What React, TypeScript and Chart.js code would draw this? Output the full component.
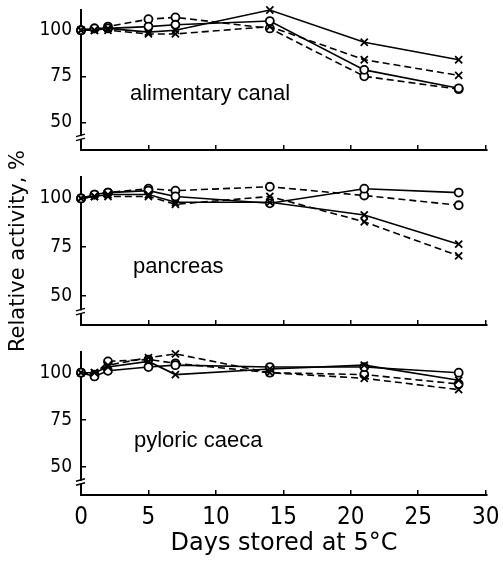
import React, { useEffect, useRef } from "react";
import { Chart, registerables } from "chart.js";

Chart.register(...registerables);

// ---------- data ----------
const days = [0, 1, 2, 5, 7, 14, 21, 28];
const xTicks = [0, 5, 10, 15, 20, 25, 30];
const yTicks = [50, 75, 100];
const xTitle = "Days stored at 5°C";
const yTitle = "Relative activity, %";
const panelNames = ["alimentary canal", "pancreas", "pyloric caeca"];

// alimentary canal
const canalSolidCross = [100, 100, 101, 99, 100, 111, 93.5, 84];
const canalDashedCross = [100, 100, 100, 98, 98, 102, 84, 75.5];
const canalSolidCircle = [100, 101, 101, 102, 103, 105, 78.5, 68.5];
const canalDashedCircle = [100, 101, 102, 106, 107, 101, 75, 68];

// pancreas
const pancSolidCross = [100, 101, 102, 102, 98, 98, 91.5, 76.5];
const pancDashedCross = [100, 101, 101, 101, 97, 101, 88, 70.5];
const pancSolidCircle = [100, 102, 103, 104, 101, 97.5, 105, 103];
const pancDashedCircle = [100, 102, 103, 105, 104, 106, 101.5, 96.5];

// pyloric caeca
const pylSolidCross = [100, 100, 103, 106, 99, 102, 104, 96];
const pylDashedCross = [100, 100, 104, 108, 110, 100, 97, 91];
const pylSolidCircle = [100, 98, 101, 103, 104, 103, 103, 100];
const pylDashedCircle = [100, 99, 106, 107, 105, 100, 99, 94];

// ---------- styling ----------
const NARROW = "'Liberation Sans Narrow', 'DejaVu Sans Condensed', 'Liberation Sans', sans-serif";
const LABEL_FONT = "'Liberation Sans', Arial, sans-serif";
const TITLE_FONT = "'DejaVu Sans', sans-serif";

type Series = { values: number[]; dashed: boolean; cross: boolean };

const decorPlugin = {
  id: "decor",
  afterDraw(chart: any, _args: any, opts: any) {
    const ctx = chart.ctx as CanvasRenderingContext2D;
    const ys = chart.scales.y;
    const area = chart.chartArea;
    ctx.save();
    // panel label
    ctx.fillStyle = "#000";
    ctx.font = `22px ${LABEL_FONT}`;
    ctx.textAlign = "left";
    ctx.textBaseline = "alphabetic";
    ctx.fillText(opts.text, opts.tx, opts.ty);
    // axis break mark
    const by = ys.getPixelForValue(opts.breakAt);
    const ax = area.left;
    ctx.fillStyle = "#fff";
    ctx.fillRect(ax - 2, by - 1, 4, 3);
    ctx.strokeStyle = "#000";
    ctx.lineWidth = 1.5;
    ctx.beginPath();
    ctx.moveTo(ax - 5, by - 0.5);
    ctx.lineTo(ax + 4, by - 3);
    ctx.moveTo(ax - 5, by + 3.5);
    ctx.lineTo(ax + 4, by + 1);
    ctx.stroke();
    ctx.restore();
  },
};

function makeDataset(s: Series) {
  return {
    data: days.map((d, i) => ({ x: d, y: s.values[i] })),
    borderColor: "#000",
    borderWidth: 1.6,
    borderDash: s.dashed ? [7, 4] : [],
    pointStyle: s.cross ? "crossRot" : "circle",
    pointRadius: s.cross ? 5 : 4,
    pointBorderWidth: 1.8,
    pointBorderColor: "#000",
    pointBackgroundColor: "#fff",
    fill: false,
    tension: 0,
    clip: 8,
  };
}

type PanelProps = {
  top: number;
  height: number;
  padTop: number;
  padBottom: number;
  xHeight: number;
  label: string;
  labelX: number;
  labelY: number;
  series: Series[];
  bottomAxis: boolean;
  showYTitle: boolean;
};

function Panel(p: PanelProps) {
  const ref = useRef<HTMLCanvasElement>(null);
  useEffect(() => {
    if (!ref.current) return;
    const gridOpts = {
      drawOnChartArea: false,
      drawTicks: true,
      tickLength: -5,
      color: "#000",
      lineWidth: 1.5,
    };
    const chart = new Chart(ref.current, {
      type: "line",
      data: { datasets: p.series.map(makeDataset) as any },
      plugins: [decorPlugin as any],
      options: {
        animation: false,
        responsive: false,
        layout: { padding: { top: p.padTop, right: 16, left: 0, bottom: p.padBottom } },
        plugins: {
          legend: { display: false },
          tooltip: { enabled: false },
          decor: { text: p.label, tx: p.labelX, ty: p.labelY, breakAt: 42 },
        } as any,
        scales: {
          x: {
            type: "linear",
            min: 0,
            max: 30.1,
            afterBuildTicks: (s: any) => {
              s.ticks = xTicks.map((v) => ({ value: v }));
            },
            afterFit: (s: any) => {
              s.height = p.xHeight;
              s.paddingLeft = 0;
              s.paddingRight = 0;
            },
            grid: gridOpts as any,
            border: { display: true, color: "#000", width: 2 },
            ticks: {
              display: p.bottomAxis,
              padding: 13,
              color: "#000",
              maxRotation: 0,
              autoSkip: false,
              font: { family: NARROW, size: 24 },
            },
            title: {
              display: p.bottomAxis,
              text: xTitle,
              color: "#000",
              font: { family: TITLE_FONT, size: 24 },
              padding: { top: 0, bottom: 4 },
            },
          },
          y: {
            type: "linear",
            min: 35,
            max: 111,
            afterBuildTicks: (s: any) => {
              s.ticks = yTicks.map((v) => ({ value: v }));
            },
            afterFit: (s: any) => {
              s.width = 81;
              s.paddingTop = 0;
              s.paddingBottom = 0;
            },
            grid: gridOpts as any,
            border: { display: true, color: "#000", width: 2 },
            ticks: {
              padding: 14,
              color: "#000",
              font: { family: NARROW, size: 19 },
            },
            title: {
              display: p.showYTitle,
              text: yTitle,
              color: "#000",
              font: { family: TITLE_FONT, size: 21 },
              padding: { top: 6, bottom: 0 },
            },
          },
        },
      },
    });
    return () => chart.destroy();
  }, []);
  return (
    <div style={{ position: "absolute", left: 0, top: p.top, width: 503, height: p.height }}>
      <canvas ref={ref} width={503} height={p.height} style={{ width: 503, height: p.height, display: "block" }} />
    </div>
  );
}

export default function App() {
  const canal: Series[] = [
    { values: canalSolidCross, dashed: false, cross: true },
    { values: canalDashedCross, dashed: true, cross: true },
    { values: canalSolidCircle, dashed: false, cross: false },
    { values: canalDashedCircle, dashed: true, cross: false },
  ];
  const panc: Series[] = [
    { values: pancSolidCross, dashed: false, cross: true },
    { values: pancDashedCross, dashed: true, cross: true },
    { values: pancSolidCircle, dashed: false, cross: false },
    { values: pancDashedCircle, dashed: true, cross: false },
  ];
  const pyl: Series[] = [
    { values: pylSolidCross, dashed: false, cross: true },
    { values: pylDashedCross, dashed: true, cross: true },
    { values: pylSolidCircle, dashed: false, cross: false },
    { values: pylDashedCircle, dashed: true, cross: false },
  ];
  return (
    <div style={{ position: "absolute", left: 0, top: 0, width: 503, height: 562, background: "#fff", overflow: "hidden" }}>
      <Panel top={0} height={165} padTop={10} padBottom={0} xHeight={15} label={panelNames[0]} labelX={130} labelY={100} series={canal} bottomAxis={false} showYTitle={false} />
      <Panel top={335} height={227} padTop={17} padBottom={0} xHeight={67} label={panelNames[2]} labelX={134} labelY={112} series={pyl} bottomAxis={true} showYTitle={false} />
      <Panel top={90} height={340} padTop={87} padBottom={95} xHeight={10} label={panelNames[1]} labelX={133} labelY={183} series={panc} bottomAxis={false} showYTitle={true} />
    </div>
  );
}
